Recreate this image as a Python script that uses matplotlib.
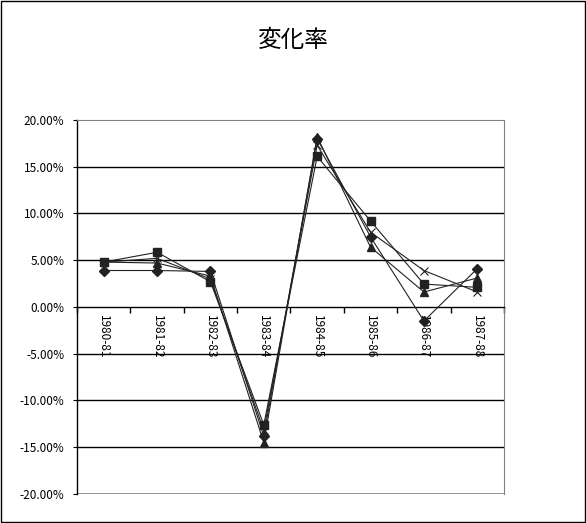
import numpy as np
import matplotlib.pyplot as plt
from matplotlib.ticker import FixedLocator, FuncFormatter

plt.rcParams['font.family'] = ['Noto Sans CJK JP', 'DejaVu Sans']

# -----------------------------
# Data (percent)
# -----------------------------
categories = ["1980-81", "1981-82", "1982-83", "1983-84",
              "1984-85", "1985-86", "1986-87", "1987-88"]
s_diamond = [3.9, 3.9, 3.8, -13.8, 18.0, 7.5, -1.5, 4.1]
s_square = [4.8, 5.85, 2.7, -12.6, 16.1, 9.2, 2.45, 2.1]
s_triangle = [4.8, 4.7, 3.3, -14.5, 18.2, 6.4, 1.6, 3.1]
s_cross = [4.8, 5.2, 3.0, -13.2, 17.3, 8.0, 3.9, 1.6]

# -----------------------------
# Figure
# -----------------------------
fig = plt.figure(figsize=(5.86, 5.23), dpi=100)
fig.patches.append(plt.Rectangle((0.001, 0.001), 0.997, 0.997, transform=fig.transFigure,
                                 fill=False, edgecolor="black", linewidth=1.0))
ax = fig.add_axes([0.1314, 0.0555, 0.7286, 0.7151])

x = np.arange(len(categories))
col = "#222222"
ax.plot(x, s_diamond, color=col, lw=0.8, marker="D", ms=5.5, zorder=3)
ax.plot(x, s_square, color=col, lw=0.8, marker="s", ms=6, zorder=3)
ax.plot(x, s_triangle, color=col, lw=0.8, marker="^", ms=6, zorder=3)
ax.plot(x, s_cross, color=col, lw=0.8, marker="x", ms=6, mew=0.8, zorder=3)

ax.set_xlim(-0.5, len(categories) - 0.5)
ax.set_ylim(-20, 20)

# horizontal gridlines
for v in [-15, -10, -5, 5, 10, 15]:
    ax.axhline(v, color="black", lw=1.0, zorder=1)
ax.axhline(-20, color="#808080", lw=1.2, zorder=1)

ax.spines["bottom"].set_position(("data", 0))
ax.spines["bottom"].set_color("black")
ax.spines["bottom"].set_linewidth(1.0)
ax.spines["left"].set_color("black")
ax.spines["left"].set_linewidth(1.0)
ax.spines["top"].set_color("#808080")
ax.spines["right"].set_color("#808080")

ax.yaxis.set_major_locator(FixedLocator(np.arange(-20, 20.1, 5)))
ax.yaxis.set_major_formatter(FuncFormatter(lambda v, p: f"{v:.2f}%"))
ax.tick_params(axis="y", direction="out", length=3, labelsize=8.5, pad=6)

ax.xaxis.set_major_locator(FixedLocator(np.arange(-0.5, len(categories), 1.0)))
ax.xaxis.set_major_formatter(FuncFormatter(lambda v, p: ""))
ax.xaxis.set_minor_locator(FixedLocator(x))
ax.set_xticklabels(categories, minor=True)
ax.tick_params(axis="x", which="major", direction="out", length=4, width=1)
ax.tick_params(axis="x", which="minor", length=0, labelsize=8.5, labelrotation=-90, pad=6)
for lab in ax.get_xticklabels(minor=True):
    lab.set_verticalalignment("top")

fig.text(0.5, 0.922, "変化率", ha="center", va="center", fontsize=17)

fig.savefig("out.png", dpi=100)
